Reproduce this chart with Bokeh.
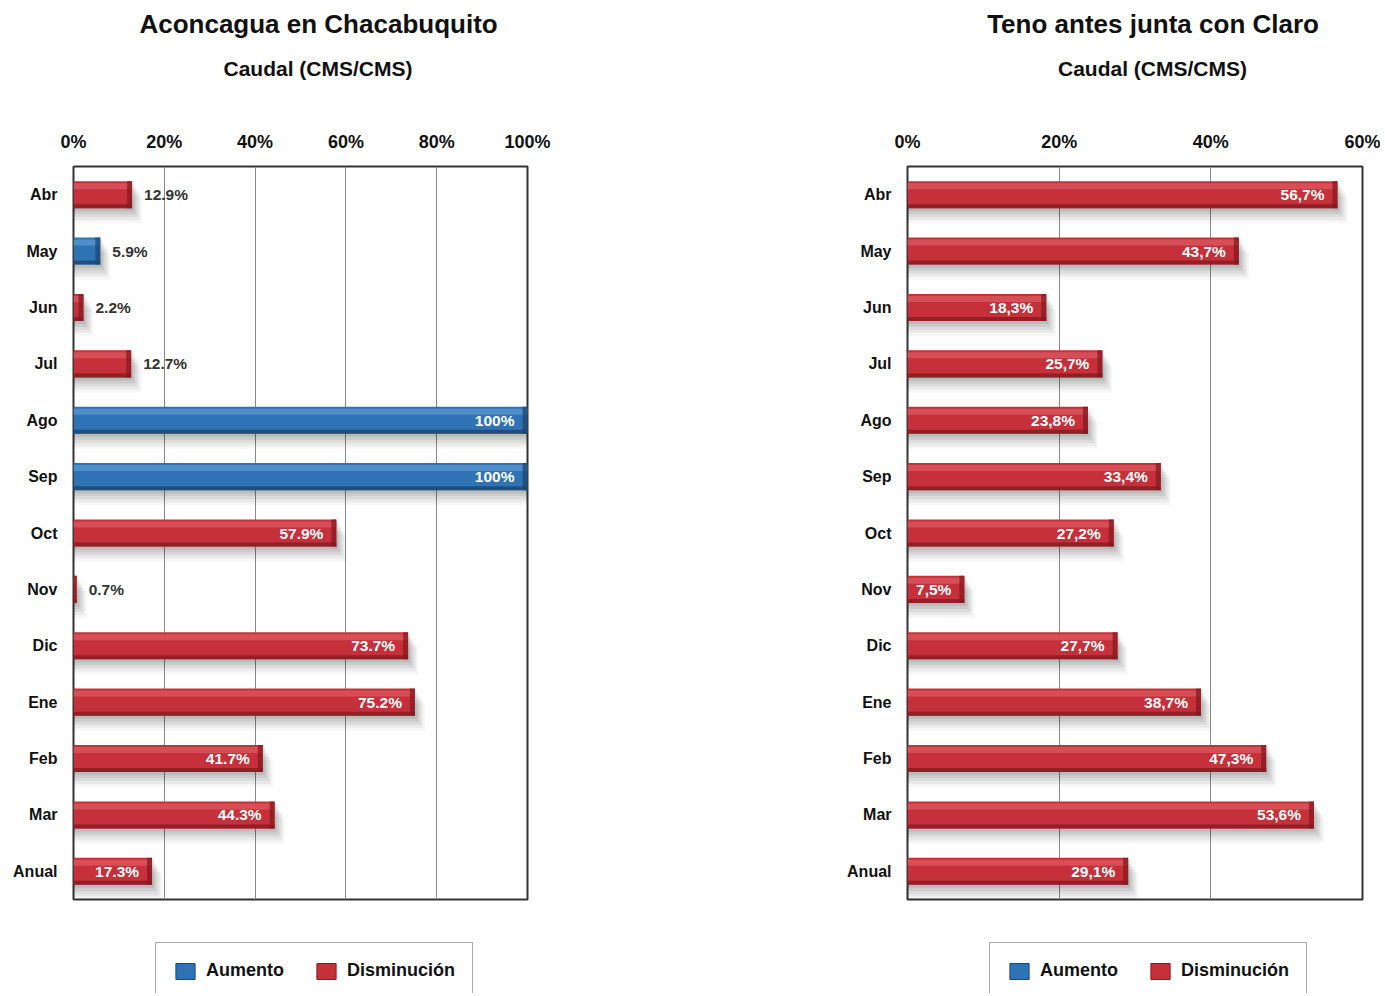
from bokeh.plotting import figure
from bokeh.layouts import row, column
from bokeh.models import (Range1d, FixedTicker, PrintfTickFormatter, LinearAxis,
                          Legend, LegendItem)
from bokeh.core.properties import value
from bokeh.embed import file_html
from bokeh.resources import INLINE

# ---------------- data ----------------
months = ["Abr", "May", "Jun", "Jul", "Ago", "Sep", "Oct", "Nov", "Dic",
          "Ene", "Feb", "Mar", "Anual"]
subtitle = "Caudal (CMS/CMS)"
series_names = ["Aumento", "Disminución"]

left_title = "Aconcagua en Chacabuquito"
left_values = [12.9, 5.9, 2.2, 12.7, 100, 100, 57.9, 0.7, 73.7, 75.2, 41.7, 44.3, 17.3]
left_change = ["Disminución", "Aumento", "Disminución", "Disminución", "Aumento",
               "Aumento", "Disminución", "Disminución", "Disminución", "Disminución",
               "Disminución", "Disminución", "Disminución"]
left_labels = ["12.9%", "5.9%", "2.2%", "12.7%", "100%", "100%", "57.9%", "0.7%",
               "73.7%", "75.2%", "41.7%", "44.3%", "17.3%"]
left_ticks = [0, 20, 40, 60, 80, 100]

right_title = "Teno antes junta con Claro"
right_values = [56.7, 43.7, 18.3, 25.7, 23.8, 33.4, 27.2, 7.5, 27.7, 38.7, 47.3, 53.6, 29.1]
right_change = ["Disminución"] * 13
right_labels = ["56,7%", "43,7%", "18,3%", "25,7%", "23,8%", "33,4%", "27,2%", "7,5%",
                "27,7%", "38,7%", "47,3%", "53,6%", "29,1%"]
right_ticks = [0, 20, 40, 60]

# ---------------- style ----------------
FONT = "Liberation Sans"
MAIN = {"Aumento": "#2f73b4", "Disminución": "#c5303a"}
LIGHT = {"Aumento": "#5b97cf", "Disminución": "#dc5a60"}
DARK = {"Aumento": "#1b4676", "Disminución": "#861a20"}
FRAME_H = 733
BAR_H = 0.48
NBSP = "\u00a0"
LEGEND_H = 92


def text_axis(p, label, size, standoff, pad):
    """An empty axis above the plot used only to carry a centred heading."""
    ax = LinearAxis(ticker=FixedTicker(ticks=[]),
                    axis_label=NBSP * pad + label, axis_label_standoff=standoff,
                    axis_label_text_font=FONT, axis_label_text_font_style="bold",
                    axis_label_text_font_size=size, axis_label_text_color="#111111",
                    axis_line_color=None, major_tick_out=0, minor_tick_out=0,
                    major_tick_line_color=None, minor_tick_line_color=None,
                    major_label_standoff=0)
    p.add_layout(ax, "above")
    return ax


def make_panel(title, values, change, labels, ticks, inside_min,
               frame_w, border_l, border_r):
    n = len(months)
    xmax = ticks[-1]
    p = figure(frame_width=frame_w, frame_height=FRAME_H,
               min_border_left=border_l, min_border_right=border_r,
               min_border_top=166, min_border_bottom=2,
               x_range=Range1d(0, xmax), y_range=Range1d(n - 0.5, -0.5),
               x_axis_location="above", output_backend="svg",
               toolbar_location=None, background_fill_color="white",
               border_fill_color="white")
    p.outline_line_color = "#333333"
    p.outline_line_width = 2

    pxy = FRAME_H / n
    pxx = frame_w / xmax
    idx = list(range(n))

    # shadows
    for dx, dy, a in [(2, 3, 0.08), (4, 6, 0.07), (6, 9, 0.06), (8, 12, 0.05),
                      (10, 15, 0.035)]:
        p.hbar(y=[i + dy / pxy for i in idx], left=0,
               right=[v + dx / pxx for v in values], height=BAR_H,
               fill_color="black", fill_alpha=a, line_color=None)

    main_c = [MAIN[c] for c in change]
    light_c = [LIGHT[c] for c in change]
    dark_c = [DARK[c] for c in change]
    p.hbar(y=idx, left=0, right=values, height=BAR_H,
           fill_color=main_c, line_color=None)
    hb = 6 / pxy
    p.hbar(y=[i - BAR_H / 2 + 2 / pxy + hb / 2 for i in idx], left=0,
           right=values, height=hb, fill_color=light_c, fill_alpha=0.75,
           line_color=None)
    db = 4 / pxy
    p.hbar(y=[i + BAR_H / 2 - db / 2 for i in idx], left=0, right=values,
           height=db, fill_color=dark_c, fill_alpha=0.8, line_color=None)
    cap = 5 / pxx
    p.hbar(y=idx, left=[max(0, v - cap) for v in values], right=values,
           height=BAR_H, fill_color=dark_c, fill_alpha=0.75, line_color=None)

    # value labels
    ins = [i for i in idx if values[i] >= inside_min]
    outs = [i for i in idx if values[i] < inside_min]
    p.text(x=[values[i] for i in ins], y=ins, text=[labels[i] for i in ins],
           x_offset=-13, text_align="right", text_baseline="middle",
           text_font=value(FONT), text_font_style="bold",
           text_font_size="15.5px", text_color="white")
    p.text(x=[values[i] for i in outs], y=outs, text=[labels[i] for i in outs],
           x_offset=12, text_align="left", text_baseline="middle",
           text_font=value(FONT), text_font_style="bold",
           text_font_size="15.5px", text_color="#333333")

    # axes
    p.xaxis.ticker = FixedTicker(ticks=ticks)
    p.xaxis.formatter = PrintfTickFormatter(format="%d%%")
    p.xaxis.axis_line_color = None
    p.xaxis.major_tick_line_color = None
    p.xaxis.minor_tick_line_color = None
    p.xaxis.major_label_standoff = 9
    p.xaxis.major_label_text_font = FONT
    p.xaxis.major_label_text_font_style = "bold"
    p.xaxis.major_label_text_font_size = "18px"
    p.xaxis.major_label_text_color = "#111111"

    p.yaxis.ticker = FixedTicker(ticks=idx)
    p.yaxis.major_label_overrides = {i: m for i, m in enumerate(months)}
    p.yaxis.axis_line_color = None
    p.yaxis.major_tick_line_color = None
    p.yaxis.minor_tick_line_color = None
    p.yaxis.major_label_standoff = 10
    p.yaxis.major_label_text_font = FONT
    p.yaxis.major_label_text_font_style = "bold"
    p.yaxis.major_label_text_font_size = "16px"
    p.yaxis.major_label_text_color = "#111111"

    p.xgrid.ticker = FixedTicker(ticks=ticks)
    p.xgrid.grid_line_color = "#8a8a8a"
    p.xgrid.grid_line_width = 1
    p.ygrid.grid_line_color = None

    # headings (subtitle first = closer to the frame)
    text_axis(p, subtitle, "21px", 49, 6)
    text_axis(p, title, "26px", 15, 5)

    # legend strip below the panel (its frame lines up with the panel frame)
    total_w = border_l + frame_w + border_r
    lg = figure(width=total_w, height=LEGEND_H, min_border=0,
                x_range=Range1d(0, 1), y_range=Range1d(0, 1),
                x_axis_location=None, y_axis_location=None,
                output_backend="svg", toolbar_location=None,
                background_fill_color="white", border_fill_color="white")
    lg.outline_line_color = None
    lg.grid.visible = False
    items = []
    for name in series_names:
        # off-range swatch carriers: only their legend glyph is seen
        r = lg.hbar(y=[-5], left=[-5], right=[-4], height=0.5,
                    fill_color=MAIN[name], line_color=DARK[name], line_width=1)
        items.append(LegendItem(label=name, renderers=[r]))
    leg = Legend(items=items, orientation="horizontal", location=(82, -6),
                 padding=17, spacing=30, label_standoff=9, glyph_width=24,
                 glyph_height=20, label_height=18, margin=0,
                 label_text_font=FONT, label_text_font_style="bold",
                 label_text_font_size="18px", label_text_color="#111111",
                 border_line_color="#555555", border_line_width=1.5,
                 background_fill_color="white", background_fill_alpha=1.0)
    lg.add_layout(leg)
    return column(p, lg, spacing=0)


left = make_panel(left_title, left_values, left_change, left_labels,
                  left_ticks, 15, 454, 73, 100)
right = make_panel(right_title, right_values, right_change, right_labels,
                   right_ticks, 5, 455, 280, 18)

layout = row(left, right, spacing=0)
open("out.html", "w").write(file_html(layout, INLINE))
